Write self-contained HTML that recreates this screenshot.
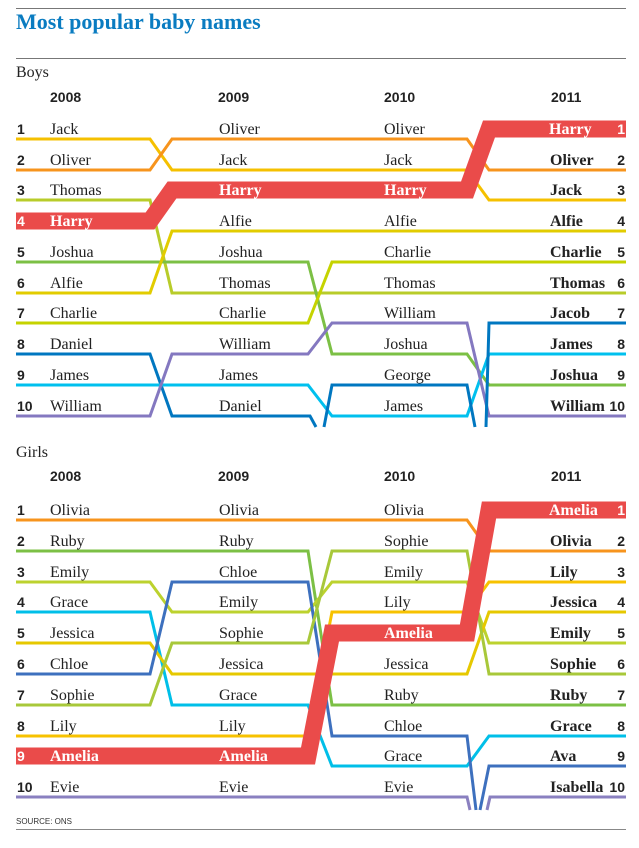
<!DOCTYPE html>
<html><head><meta charset="utf-8"><style>
html,body{margin:0;padding:0;background:#fff}
svg{display:block}
.n{font-family:"Liberation Serif",serif;font-size:16px;fill:#222}
.b{font-family:"Liberation Serif",serif;font-size:16px;fill:#222;font-weight:bold}
.w{font-family:"Liberation Serif",serif;font-size:16px;fill:#fff;font-weight:bold}
.r{font-family:"Liberation Sans",sans-serif;font-size:14px;font-weight:bold;fill:#222}
.rw{font-family:"Liberation Sans",sans-serif;font-size:14px;font-weight:bold;fill:#fff}
.y{font-family:"Liberation Sans",sans-serif;font-size:14px;font-weight:bold;fill:#222}
polyline{fill:none;stroke-width:3;stroke-linejoin:miter}
</style></head><body>
<svg width="639" height="848" viewBox="0 0 639 848" xmlns="http://www.w3.org/2000/svg">
<line x1="16" y1="8.5" x2="626" y2="8.5" stroke="#777" stroke-width="1"/>
<text x="16" y="29" font-family="Liberation Serif,serif" font-size="22" font-weight="bold" fill="#0a7cc1">Most popular baby names</text>
<line x1="16" y1="58.5" x2="626" y2="58.5" stroke="#777" stroke-width="1"/>
<text x="16" y="77" class="n" font-size="16">Boys</text>
<text x="50" y="102" class="y">2008</text><text x="218" y="102" class="y">2009</text><text x="384" y="102" class="y">2010</text><text x="551" y="102" class="y">2011</text>

<polyline stroke="#f5c000" points="16,139 150,139 172,170 308,170 332,170 467,170 489,200 626,200"/>
<polyline stroke="#f7941d" points="16,170 150,170 172,139 308,139 332,139 467,139 489,170 626,170"/>
<polyline stroke="#b8cc2a" points="16,200 150,200 172,293 308,293 332,293 467,293 489,293 626,293"/>
<polyline stroke="#7cc045" points="16,262 150,262 172,262 308,262 332,354 467,354 489,385 626,385"/>
<polyline stroke="#e2cc00" points="16,293 150,293 172,231 308,231 332,231 467,231 489,231 626,231"/>
<polyline stroke="#c5d300" points="16,323 150,323 172,323 308,323 332,262 467,262 489,262 626,262"/>
<polyline stroke="#0077c0" points="16,354 150,354 172,416 310,416 316,427"/>
<polyline stroke="#00c0ee" points="16,385 150,385 172,385 308,385 332,416 467,416 489,354 626,354"/>
<polyline stroke="#8478c0" points="16,416 150,416 172,354 308,354 332,323 467,323 489,416 626,416"/>
<polyline stroke="#0077c0" points="324,427 332,385 467,385 475,427"/>
<polyline stroke="#0077c0" points="486,427 489,323 626,323"/>
<polyline stroke="#ea4b4a" style="stroke-width:17" points="16,221 150,221 172,190 308,190 332,190 467,190 489,129 626,129"/>

<g class="r"><text x="17" y="134">1</text><text x="17" y="165">2</text><text x="17" y="195">3</text><text x="17" y="257">5</text><text x="17" y="288">6</text><text x="17" y="318">7</text><text x="17" y="349">8</text><text x="17" y="380">9</text><text x="17" y="411">10</text></g>
<text x="17" y="226" class="rw">4</text>
<g class="n"><text x="50" y="134">Jack</text><text x="50" y="165">Oliver</text><text x="50" y="195">Thomas</text><text x="50" y="257">Joshua</text><text x="50" y="288">Alfie</text><text x="50" y="318">Charlie</text><text x="50" y="349">Daniel</text><text x="50" y="380">James</text><text x="50" y="411">William</text>
<text x="219" y="134">Oliver</text><text x="219" y="165">Jack</text><text x="219" y="226">Alfie</text><text x="219" y="257">Joshua</text><text x="219" y="288">Thomas</text><text x="219" y="318">Charlie</text><text x="219" y="349">William</text><text x="219" y="380">James</text><text x="219" y="411">Daniel</text>
<text x="384" y="134">Oliver</text><text x="384" y="165">Jack</text><text x="384" y="226">Alfie</text><text x="384" y="257">Charlie</text><text x="384" y="288">Thomas</text><text x="384" y="318">William</text><text x="384" y="349">Joshua</text><text x="384" y="380">George</text><text x="384" y="411">James</text></g>
<g class="w"><text x="50" y="226">Harry</text><text x="219" y="195">Harry</text><text x="384" y="195">Harry</text><text x="549" y="134">Harry</text></g>
<text x="625" y="134" class="rw" text-anchor="end">1</text>
<g class="b"><text x="550" y="165">Oliver</text><text x="550" y="195">Jack</text><text x="550" y="226">Alfie</text><text x="550" y="257">Charlie</text><text x="550" y="288">Thomas</text><text x="550" y="318">Jacob</text><text x="550" y="349">James</text><text x="550" y="380">Joshua</text><text x="550" y="411">William</text></g>
<g class="r" text-anchor="end"><text x="625" y="165">2</text><text x="625" y="195">3</text><text x="625" y="226">4</text><text x="625" y="257">5</text><text x="625" y="288">6</text><text x="625" y="318">7</text><text x="625" y="349">8</text><text x="625" y="380">9</text><text x="625" y="411">10</text></g>

<text x="16" y="457" class="n" font-size="16">Girls</text>
<text x="50" y="481" class="y">2008</text><text x="218" y="481" class="y">2009</text><text x="384" y="481" class="y">2010</text><text x="551" y="481" class="y">2011</text>

<polyline stroke="#f7941d" points="16,520 150,520 172,520 308,520 332,520 467,520 489,551 626,551"/>
<polyline stroke="#7cc045" points="16,551 150,551 172,551 308,551 332,705 467,705 489,705 626,705"/>
<polyline stroke="#bcd22e" points="16,582 150,582 172,612 308,612 332,582 467,582 489,643 626,643"/>
<polyline stroke="#00bfe8" points="16,612 150,612 172,705 308,705 332,766 467,766 489,736 626,736"/>
<polyline stroke="#e6c800" points="16,643 150,643 172,674 308,674 332,674 467,674 489,612 626,612"/>
<polyline stroke="#3d70be" points="16,674 150,674 172,582 308,582 332,736 467,736 476,810"/>
<polyline stroke="#a8c83a" points="16,705 150,705 172,643 308,643 332,551 467,551 489,674 626,674"/>
<polyline stroke="#f7c200" points="16,736 150,736 172,736 308,736 332,612 467,612 489,582 626,582"/>
<polyline stroke="#8a80c0" points="16,797 150,797 172,797 308,797 332,797 467,797 470,810"/>
<polyline stroke="#3d70be" points="480,810 489,766 626,766"/>
<polyline stroke="#8a80c0" points="487,810 490,797 626,797"/>
<polyline stroke="#ea4b4a" style="stroke-width:17" points="16,756 150,756 172,756 308,756 332,633 467,633 489,510 626,510"/>

<g class="r"><text x="17" y="515">1</text><text x="17" y="546">2</text><text x="17" y="577">3</text><text x="17" y="607">4</text><text x="17" y="638">5</text><text x="17" y="669">6</text><text x="17" y="700">7</text><text x="17" y="731">8</text><text x="17" y="792">10</text></g>
<text x="17" y="761" class="rw">9</text>
<g class="n"><text x="50" y="515">Olivia</text><text x="50" y="546">Ruby</text><text x="50" y="577">Emily</text><text x="50" y="607">Grace</text><text x="50" y="638">Jessica</text><text x="50" y="669">Chloe</text><text x="50" y="700">Sophie</text><text x="50" y="731">Lily</text><text x="50" y="792">Evie</text>
<text x="219" y="515">Olivia</text><text x="219" y="546">Ruby</text><text x="219" y="577">Chloe</text><text x="219" y="607">Emily</text><text x="219" y="638">Sophie</text><text x="219" y="669">Jessica</text><text x="219" y="700">Grace</text><text x="219" y="731">Lily</text><text x="219" y="792">Evie</text>
<text x="384" y="515">Olivia</text><text x="384" y="546">Sophie</text><text x="384" y="577">Emily</text><text x="384" y="607">Lily</text><text x="384" y="669">Jessica</text><text x="384" y="700">Ruby</text><text x="384" y="731">Chloe</text><text x="384" y="761">Grace</text><text x="384" y="792">Evie</text></g>
<g class="w"><text x="50" y="761">Amelia</text><text x="219" y="761">Amelia</text><text x="384" y="638">Amelia</text><text x="549" y="515">Amelia</text></g>
<text x="625" y="515" class="rw" text-anchor="end">1</text>
<g class="b"><text x="550" y="546">Olivia</text><text x="550" y="577">Lily</text><text x="550" y="607">Jessica</text><text x="550" y="638">Emily</text><text x="550" y="669">Sophie</text><text x="550" y="700">Ruby</text><text x="550" y="731">Grace</text><text x="550" y="761">Ava</text><text x="550" y="792">Isabella</text></g>
<g class="r" text-anchor="end"><text x="625" y="546">2</text><text x="625" y="577">3</text><text x="625" y="607">4</text><text x="625" y="638">5</text><text x="625" y="669">6</text><text x="625" y="700">7</text><text x="625" y="731">8</text><text x="625" y="761">9</text><text x="625" y="792">10</text></g>

<text x="16" y="824" font-family="Liberation Sans,sans-serif" font-size="8" fill="#333">SOURCE: ONS</text>
<line x1="16" y1="829.5" x2="626" y2="829.5" stroke="#888" stroke-width="1"/>
</svg>
</body></html>
